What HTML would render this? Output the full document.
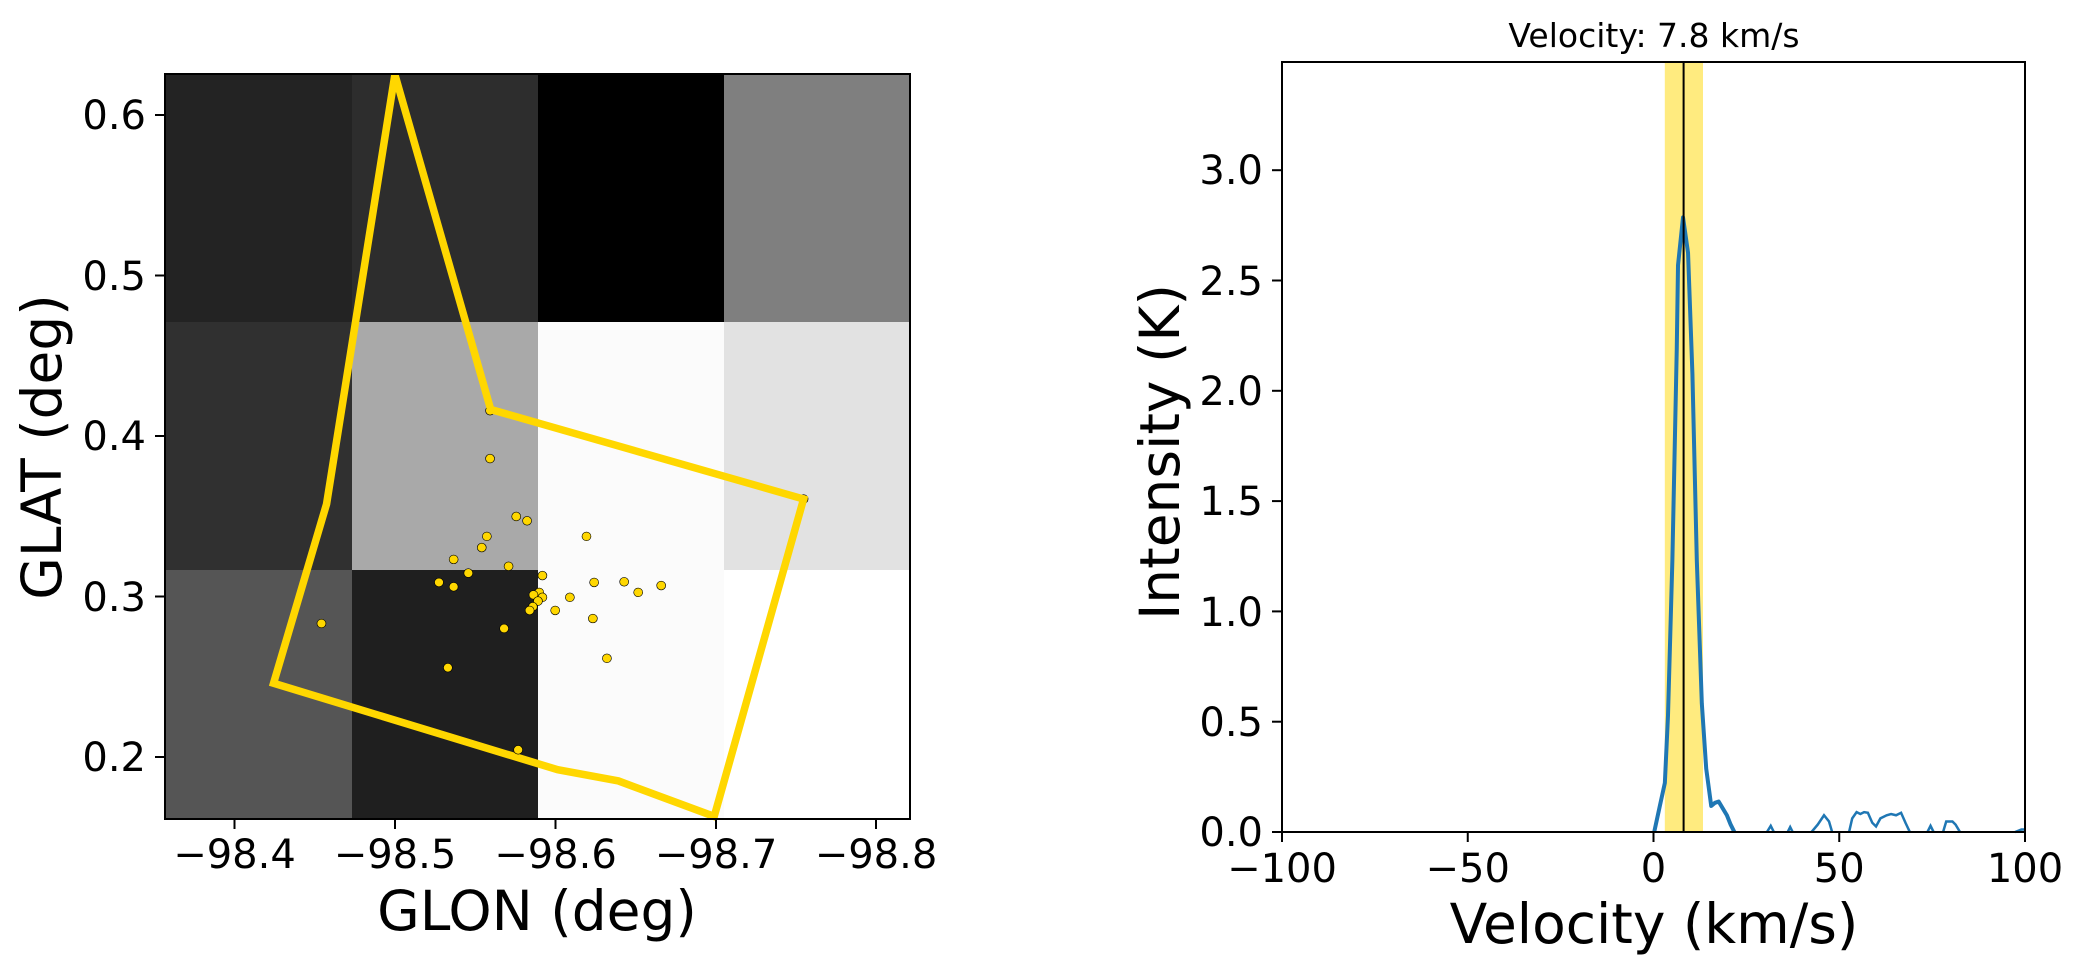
<!DOCTYPE html>
<html><head><meta charset="utf-8"><style>
html,body{margin:0;padding:0;background:#fff;}
svg text{font-family:"DejaVu Sans","Liberation Sans",sans-serif;fill:#000;}
</style></head><body>
<svg width="2083" height="975" viewBox="0 0 2083 975" xmlns="http://www.w3.org/2000/svg">
<rect width="2083" height="975" fill="#fff"/>
<rect x="165" y="74" width="187" height="249" fill="#232323"/>
<rect x="352" y="74" width="186" height="249" fill="#2d2d2d"/>
<rect x="538" y="74" width="186" height="249" fill="#000000"/>
<rect x="724" y="74" width="186" height="249" fill="#7f7f7f"/>
<rect x="165" y="322" width="187" height="249" fill="#303030"/>
<rect x="352" y="322" width="186" height="249" fill="#a9a9a9"/>
<rect x="538" y="322" width="186" height="249" fill="#fbfbfb"/>
<rect x="724" y="322" width="186" height="249" fill="#e2e2e2"/>
<rect x="165" y="570" width="187" height="249" fill="#555555"/>
<rect x="352" y="570" width="186" height="249" fill="#1f1f1f"/>
<rect x="538" y="570" width="186" height="249" fill="#fbfbfb"/>
<rect x="724" y="570" width="186" height="249" fill="#ffffff"/>
<g transform="translate(165,74) scale(0.6386,0.6223) translate(-260,-119)">
<g fill="#ffd700" stroke="#000" stroke-width="1" vector-effect="non-scaling-stroke">
<circle cx="769" cy="660" r="7"/><circle cx="1260" cy="802" r="7"/>
</g>
<polygon points="620,120 770,658 1260,802 1120,1312 970,1255 875,1237 430,1098 513,810" fill="none" stroke="#ffd700" stroke-width="7.5" stroke-linejoin="miter" vector-effect="non-scaling-stroke"/>
<g fill="#ffd700" stroke="#000" stroke-width="1" vector-effect="non-scaling-stroke">
<circle cx="769" cy="737" r="7"/><circle cx="810" cy="830" r="7"/><circle cx="827" cy="837" r="7"/><circle cx="764" cy="862" r="7"/><circle cx="756" cy="880" r="7"/><circle cx="712" cy="899" r="7"/><circle cx="735" cy="921" r="7"/><circle cx="798" cy="910" r="7"/><circle cx="689" cy="936" r="7"/><circle cx="712" cy="943" r="7"/><circle cx="851" cy="925" r="7"/><circle cx="846" cy="952" r="7"/><circle cx="837" cy="956" r="7"/><circle cx="851" cy="960" r="7"/><circle cx="844" cy="966" r="7"/><circle cx="836" cy="975" r="7"/><circle cx="831" cy="981" r="7"/><circle cx="871" cy="981" r="7"/><circle cx="894" cy="960" r="7"/><circle cx="920" cy="862" r="7"/><circle cx="932" cy="936" r="7"/><circle cx="979" cy="935" r="7"/><circle cx="1001" cy="952" r="7"/><circle cx="1037" cy="941" r="7"/><circle cx="930" cy="994" r="7"/><circle cx="952" cy="1058" r="7"/><circle cx="791" cy="1010" r="7"/><circle cx="703" cy="1073" r="7"/><circle cx="505" cy="1002" r="7"/><circle cx="813" cy="1205" r="7"/>
</g>
</g>
<rect x="165" y="74" width="745" height="745" fill="none" stroke="#000" stroke-width="2"/>
<g stroke="#000" stroke-width="2">
<line x1="234.5" y1="819" x2="234.5" y2="829"/><line x1="395" y1="819" x2="395" y2="829"/><line x1="555.5" y1="819" x2="555.5" y2="829"/><line x1="716" y1="819" x2="716" y2="829"/><line x1="876" y1="819" x2="876" y2="829"/>
<line x1="155" y1="115" x2="165" y2="115"/><line x1="155" y1="275.5" x2="165" y2="275.5"/><line x1="155" y1="436" x2="165" y2="436"/><line x1="155" y1="596.5" x2="165" y2="596.5"/><line x1="155" y1="757" x2="165" y2="757"/>
</g>
<g font-size="40" text-anchor="middle">
<text x="234.5" y="868">−98.4</text><text x="395" y="868">−98.5</text><text x="555.5" y="868">−98.6</text><text x="716" y="868">−98.7</text><text x="876" y="868">−98.8</text>
</g>
<g font-size="40" text-anchor="end">
<text x="146" y="129">0.6</text><text x="146" y="290">0.5</text><text x="146" y="450">0.4</text><text x="146" y="611">0.3</text><text x="146" y="771">0.2</text>
</g>
<text x="537" y="930" font-size="55" text-anchor="middle">GLON (deg)</text>
<text transform="translate(61,447) rotate(-90)" font-size="55" text-anchor="middle">GLAT (deg)</text>

<rect x="1664.8" y="62" width="38.2" height="770" fill="#ffd700" fill-opacity="0.5"/>
<g transform="translate(1282,62) scale(0.6266,0.6215) translate(-290,-98)">
<polyline fill="none" stroke="#1f77b4" stroke-width="4" vector-effect="non-scaling-stroke" stroke-linejoin="round" points="884,1337 893,1295 901,1258 906,1150 913,900 920,560 922,425 930,348 938,405 945,600 952,900 960,1130 967,1235 975,1295 981,1290 987,1288 994,1300 1000,1310 1006,1325 1012,1337"/>
<g fill="none" stroke="#1f77b4" stroke-width="4" vector-effect="non-scaling-stroke">
<polyline points="1064,1337 1070,1327 1075,1337"/>
<polyline points="1097,1337 1101,1329 1105,1337"/>
<polyline points="1135,1337 1145,1325 1155,1310 1163,1320 1168,1337"/>
<polyline points="1195,1337 1200,1315 1207,1305 1213,1308 1219,1305 1225,1306 1232,1322 1238,1328 1245,1315 1255,1310 1262,1308 1270,1310 1278,1306 1285,1322 1292,1337"/>
<polyline points="1320,1337 1325,1327 1330,1337"/>
<polyline points="1345,1337 1350,1320 1360,1320 1365,1325 1372,1337"/>
<polyline points="1460,1337 1470,1333 1476,1333"/>
</g>
</g>
<line x1="1683.6" y1="62" x2="1683.6" y2="832" stroke="#000" stroke-width="2"/>
<rect x="1282" y="62" width="743" height="770" fill="none" stroke="#000" stroke-width="2"/>
<g stroke="#000" stroke-width="2">
<line x1="1282" y1="832" x2="1282" y2="842"/><line x1="1467.75" y1="832" x2="1467.75" y2="842"/><line x1="1653.5" y1="832" x2="1653.5" y2="842"/><line x1="1839.25" y1="832" x2="1839.25" y2="842"/><line x1="2025" y1="832" x2="2025" y2="842"/>
<line x1="1272" y1="832" x2="1282" y2="832"/><line x1="1272" y1="721.7" x2="1282" y2="721.7"/><line x1="1272" y1="611.4" x2="1282" y2="611.4"/><line x1="1272" y1="501.1" x2="1282" y2="501.1"/><line x1="1272" y1="390.8" x2="1282" y2="390.8"/><line x1="1272" y1="280.5" x2="1282" y2="280.5"/><line x1="1272" y1="170.2" x2="1282" y2="170.2"/>
</g>
<g font-size="40" text-anchor="middle">
<text x="1282" y="882">−100</text><text x="1467.75" y="882">−50</text><text x="1653.5" y="882">0</text><text x="1839.25" y="882">50</text><text x="2025" y="882">100</text>
</g>
<g font-size="40" text-anchor="end">
<text x="1263" y="846">0.0</text><text x="1263" y="736">0.5</text><text x="1263" y="626">1.0</text><text x="1263" y="515">1.5</text><text x="1263" y="405">2.0</text><text x="1263" y="295">2.5</text><text x="1263" y="184">3.0</text>
</g>
<text x="1654" y="943" font-size="55" text-anchor="middle">Velocity (km/s)</text>
<text transform="translate(1179,452) rotate(-90)" font-size="55" text-anchor="middle">Intensity (K)</text>
<text x="1654" y="47" font-size="33" text-anchor="middle">Velocity: 7.8 km/s</text>
</svg>
</body></html>
